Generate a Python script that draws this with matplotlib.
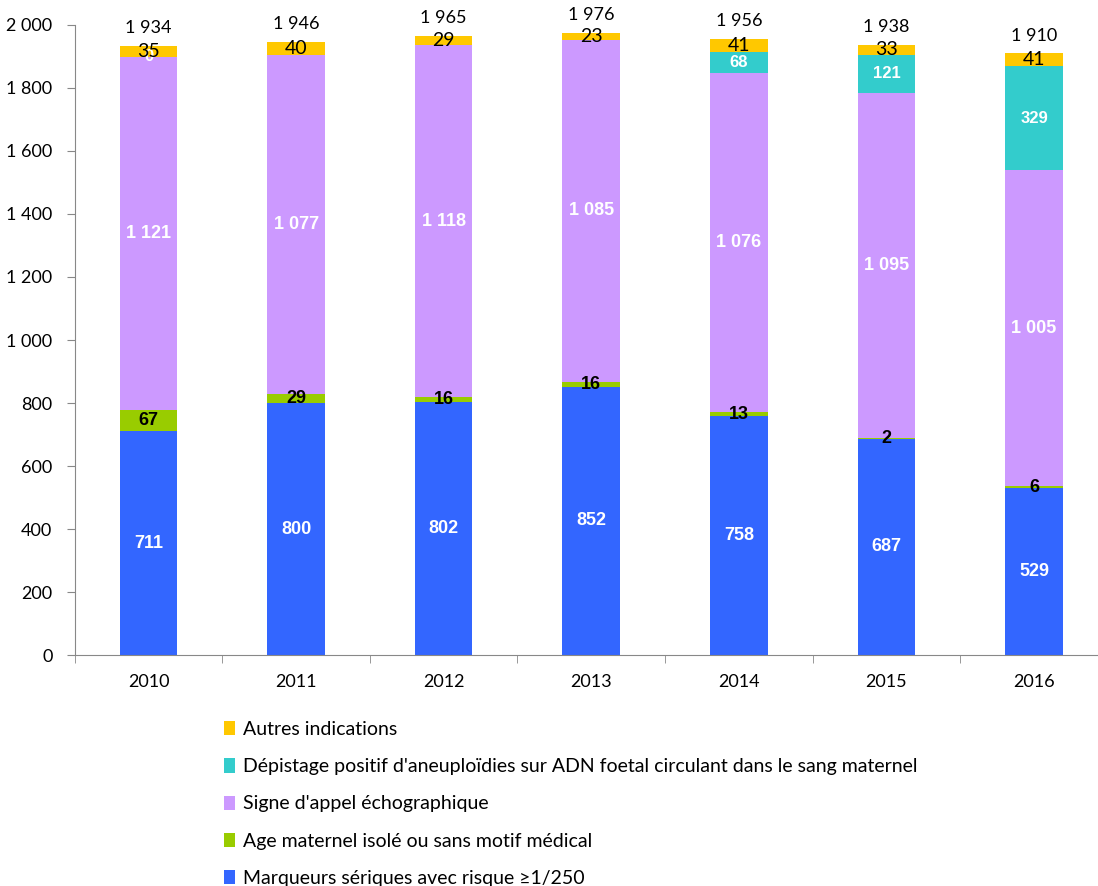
import matplotlib
matplotlib.use("Agg")
import matplotlib.pyplot as plt
from matplotlib.patches import Patch
from matplotlib.ticker import FuncFormatter, FixedLocator
import numpy as np

years = ["2010", "2011", "2012", "2013", "2014", "2015", "2016"]
marqueurs = [711, 800, 802, 852, 758, 687, 529]
age = [67, 29, 16, 16, 13, 2, 6]
signe = [1121, 1077, 1118, 1085, 1076, 1095, 1005]
adn = [0, 0, 0, 0, 68, 121, 329]
autres = [35, 40, 29, 23, 41, 33, 41]
totals = [1934, 1946, 1965, 1976, 1956, 1938, 1910]
adn_shown = [True, False, False, False, True, True, True]

names = ["Marqueurs sériques avec risque ≥1/250",
         "Age maternel isolé ou sans motif médical",
         "Signe d'appel échographique",
         "Dépistage positif d'aneuploïdies sur ADN foetal circulant dans le sang maternel",
         "Autres indications"]
colors = ["#3366FF", "#99CC00", "#CC99FF", "#33CCCC", "#FFC800"]

def fmt(v):
    return f"{int(v):,}".replace(",", " ")

fig = plt.figure(figsize=(10.98, 8.86), dpi=100)
ax = fig.add_axes([0.068, 0.2607, 0.941, 0.7111])
x = np.arange(len(years))
w = 0.39
series = [marqueurs, age, signe, adn, autres]
bottom = np.zeros(len(years))
bottoms = []
for vals, c in zip(series, colors):
    ax.bar(x, vals, w, bottom=bottom, color=c, edgecolor="none", zorder=2)
    bottoms.append(bottom.copy())
    bottom = bottom + np.array(vals)

lab_font = "Lato"
for i in range(len(years)):
    ax.text(x[i], bottoms[0][i] + marqueurs[i] / 2, fmt(marqueurs[i]), ha="center", va="center",
            color="white", fontweight="bold", fontsize=13, family="Liberation Sans")
    ax.text(x[i], bottoms[1][i] + age[i] / 2, fmt(age[i]), ha="center", va="center",
            color="black", fontweight="bold", fontsize=13, family="Liberation Sans")
    ax.text(x[i], bottoms[2][i] + signe[i] / 2, fmt(signe[i]), ha="center", va="center",
            color="white", fontweight="bold", fontsize=13, family="Liberation Sans")
    if adn_shown[i]:
        ax.text(x[i], bottoms[3][i] + adn[i] / 2, fmt(adn[i]), ha="center", va="center",
                color="white", fontweight="bold", fontsize=12, family="Liberation Sans")
    ax.text(x[i], bottoms[4][i] + autres[i] / 2, fmt(autres[i]), ha="center", va="center",
            color="black", fontsize=14, family=lab_font)
    ax.annotate(fmt(totals[i]), (x[i], totals[i]), xytext=(0, 7), textcoords="offset points",
                ha="center", va="bottom", fontsize=13, family=lab_font, color="black")

ax.set_xlim(-0.5, len(years) - 0.5)
ax.set_ylim(0, 2000)
ax.set_yticks(np.arange(0, 2001, 200))
ax.yaxis.set_major_formatter(FuncFormatter(lambda v, p: fmt(v)))
ax.set_xticks(x)
ax.set_xticklabels(years)
ax.xaxis.set_minor_locator(FixedLocator(np.arange(-0.5, len(years), 1.0)))
ax.tick_params(axis="x", which="major", length=0, pad=14)
ax.tick_params(axis="x", which="minor", length=6, color="#888888", direction="out")
ax.tick_params(axis="y", length=6, color="#888888", direction="out", pad=10)
for lbl in ax.get_xticklabels() + ax.get_yticklabels():
    lbl.set_family(lab_font)
    lbl.set_fontsize(13)
for s in ["top", "right"]:
    ax.spines[s].set_visible(False)
for s in ["left", "bottom"]:
    ax.spines[s].set_color("#888888")

handles = [Patch(facecolor=colors[k], edgecolor="none") for k in [4, 3, 2, 1, 0]]
labels = [names[k] for k in [4, 3, 2, 1, 0]]
fig.legend(handles, labels, loc="upper left", bbox_to_anchor=(0.197, 0.195), frameon=False,
           prop={"family": lab_font, "size": 14}, handlelength=0.55, handleheight=0.75,
           handletextpad=0.4, labelspacing=1.04, borderaxespad=0)

fig.savefig("out.png", dpi=100)
